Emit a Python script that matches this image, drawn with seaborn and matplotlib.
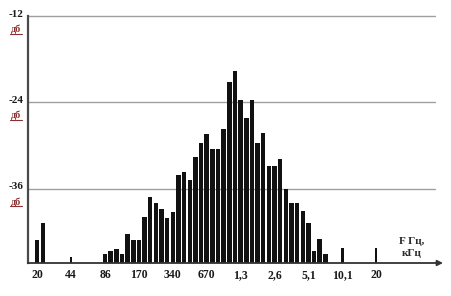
import matplotlib
matplotlib.use('Agg')
import matplotlib.pyplot as plt
import matplotlib.transforms as mtransforms
import seaborn as sns
import numpy as np

# 1/6-octave bands, index 0 = 86 Hz band, 6 bands per octave
band_idx = [-12, -11] + list(range(0, 40))
level_db = [-43.1, -40.8,
            -45.1, -44.7, -44.3, -45.1, -42.3, -43.1, -43.1, -39.9, -37.2, -37.9,
            -38.8, -40.0, -39.2, -34.1, -33.6, -34.8, -31.6, -29.7, -28.4, -30.4,
            -30.4, -27.7, -21.2, -19.6, -23.6, -26.1, -23.6, -29.6, -28.3, -32.8,
            -32.8, -31.9, -36.0, -37.9, -37.9, -39.1, -40.7, -44.7, -43.0, -45.1]

# thin isolated lines
spike_idx = [-6, 42, 48]
spike_db = [-45.4, -44.2, -44.2]

tick_idx = [-12, -6, 0, 6, 12, 18, 24, 30, 36, 42, 48]
tick_labels = ['20', '44', '86', '170', '340', '670', '1,3', '2,6', '5,1', '10,1', '20']
grid_db = [-12, -24, -36]
FLOOR = -46.3

sns.set_style('white')
plt.rcParams['font.family'] = ['Liberation Serif', 'DejaVu Serif']

fig = plt.figure(figsize=(4.51, 2.96), dpi=100)
ax = fig.add_axes([28 / 451, 1 - 263 / 296, 415 / 451, 247 / 296])

for v in grid_db:
    ax.axhline(v, xmin=0, xmax=0.98, color='#a0a0a0', lw=1.0, zorder=0, clip_on=False)

sns.barplot(x=band_idx, y=np.array(level_db) - FLOOR, bottom=FLOOR, native_scale=True,
            color='#111111', saturation=1, width=0.8, errorbar=None, linewidth=0, ax=ax)
sns.barplot(x=spike_idx, y=np.array(spike_db) - FLOOR, bottom=FLOOR, native_scale=True,
            color='#111111', saturation=1, width=0.07, errorbar=None, linewidth=0, ax=ax)

ax.set_xlim(-13.63, 59.82)
ax.set_ylim(FLOOR, -12)
ax.set_xlabel('')
ax.set_ylabel('')

ax.set_xticks(tick_idx)
ax.set_xticklabels(tick_labels, fontsize=8.5, fontweight='bold', color='#1a1a1a')
ax.tick_params(axis='x', length=0, pad=4.5)
ax.set_yticks([])

for side in ['top', 'right', 'bottom']:
    ax.spines[side].set_visible(False)
ax.spines['left'].set_color('#4a4a4a')
ax.spines['left'].set_linewidth(1.6)

# x axis with arrow
ax.annotate('', xy=(1.0, 0), xytext=(0, 0), xycoords='axes fraction',
            arrowprops=dict(arrowstyle='-|>', color='#333333', lw=1.3,
                            mutation_scale=8, shrinkA=0, shrinkB=0))

# dB labels
ytrans = ax.get_yaxis_transform()
uline = mtransforms.offset_copy(ytrans, fig=fig, y=-12.6, units='points')
for v in grid_db:
    ax.annotate(str(v), xy=(0, v), xycoords=ytrans, xytext=(-8.6, 1.4),
                textcoords='offset points', ha='center', va='center',
                fontsize=8, fontweight='bold', color='#1a1a1a', annotation_clip=False)
    ax.annotate('дб', xy=(0, v), xycoords=ytrans, xytext=(-8.6, -9.4),
                textcoords='offset points', ha='center', va='center',
                fontsize=7.5, fontweight='bold', color='#8a3030', annotation_clip=False)
    ax.plot([-0.0434, -0.0145], [v, v], transform=uline, color='#8a3030',
            lw=0.8, clip_on=False)

fig.text(412 / 451, 1 - 241 / 296, 'F Гц,', ha='center', va='center',
         fontsize=8, fontweight='bold', color='#2a2a2a')
fig.text(412 / 451, 1 - 254 / 296, 'кГц', ha='center', va='center',
         fontsize=8, fontweight='bold', color='#2a2a2a')

fig.savefig('out.png', dpi=100)
